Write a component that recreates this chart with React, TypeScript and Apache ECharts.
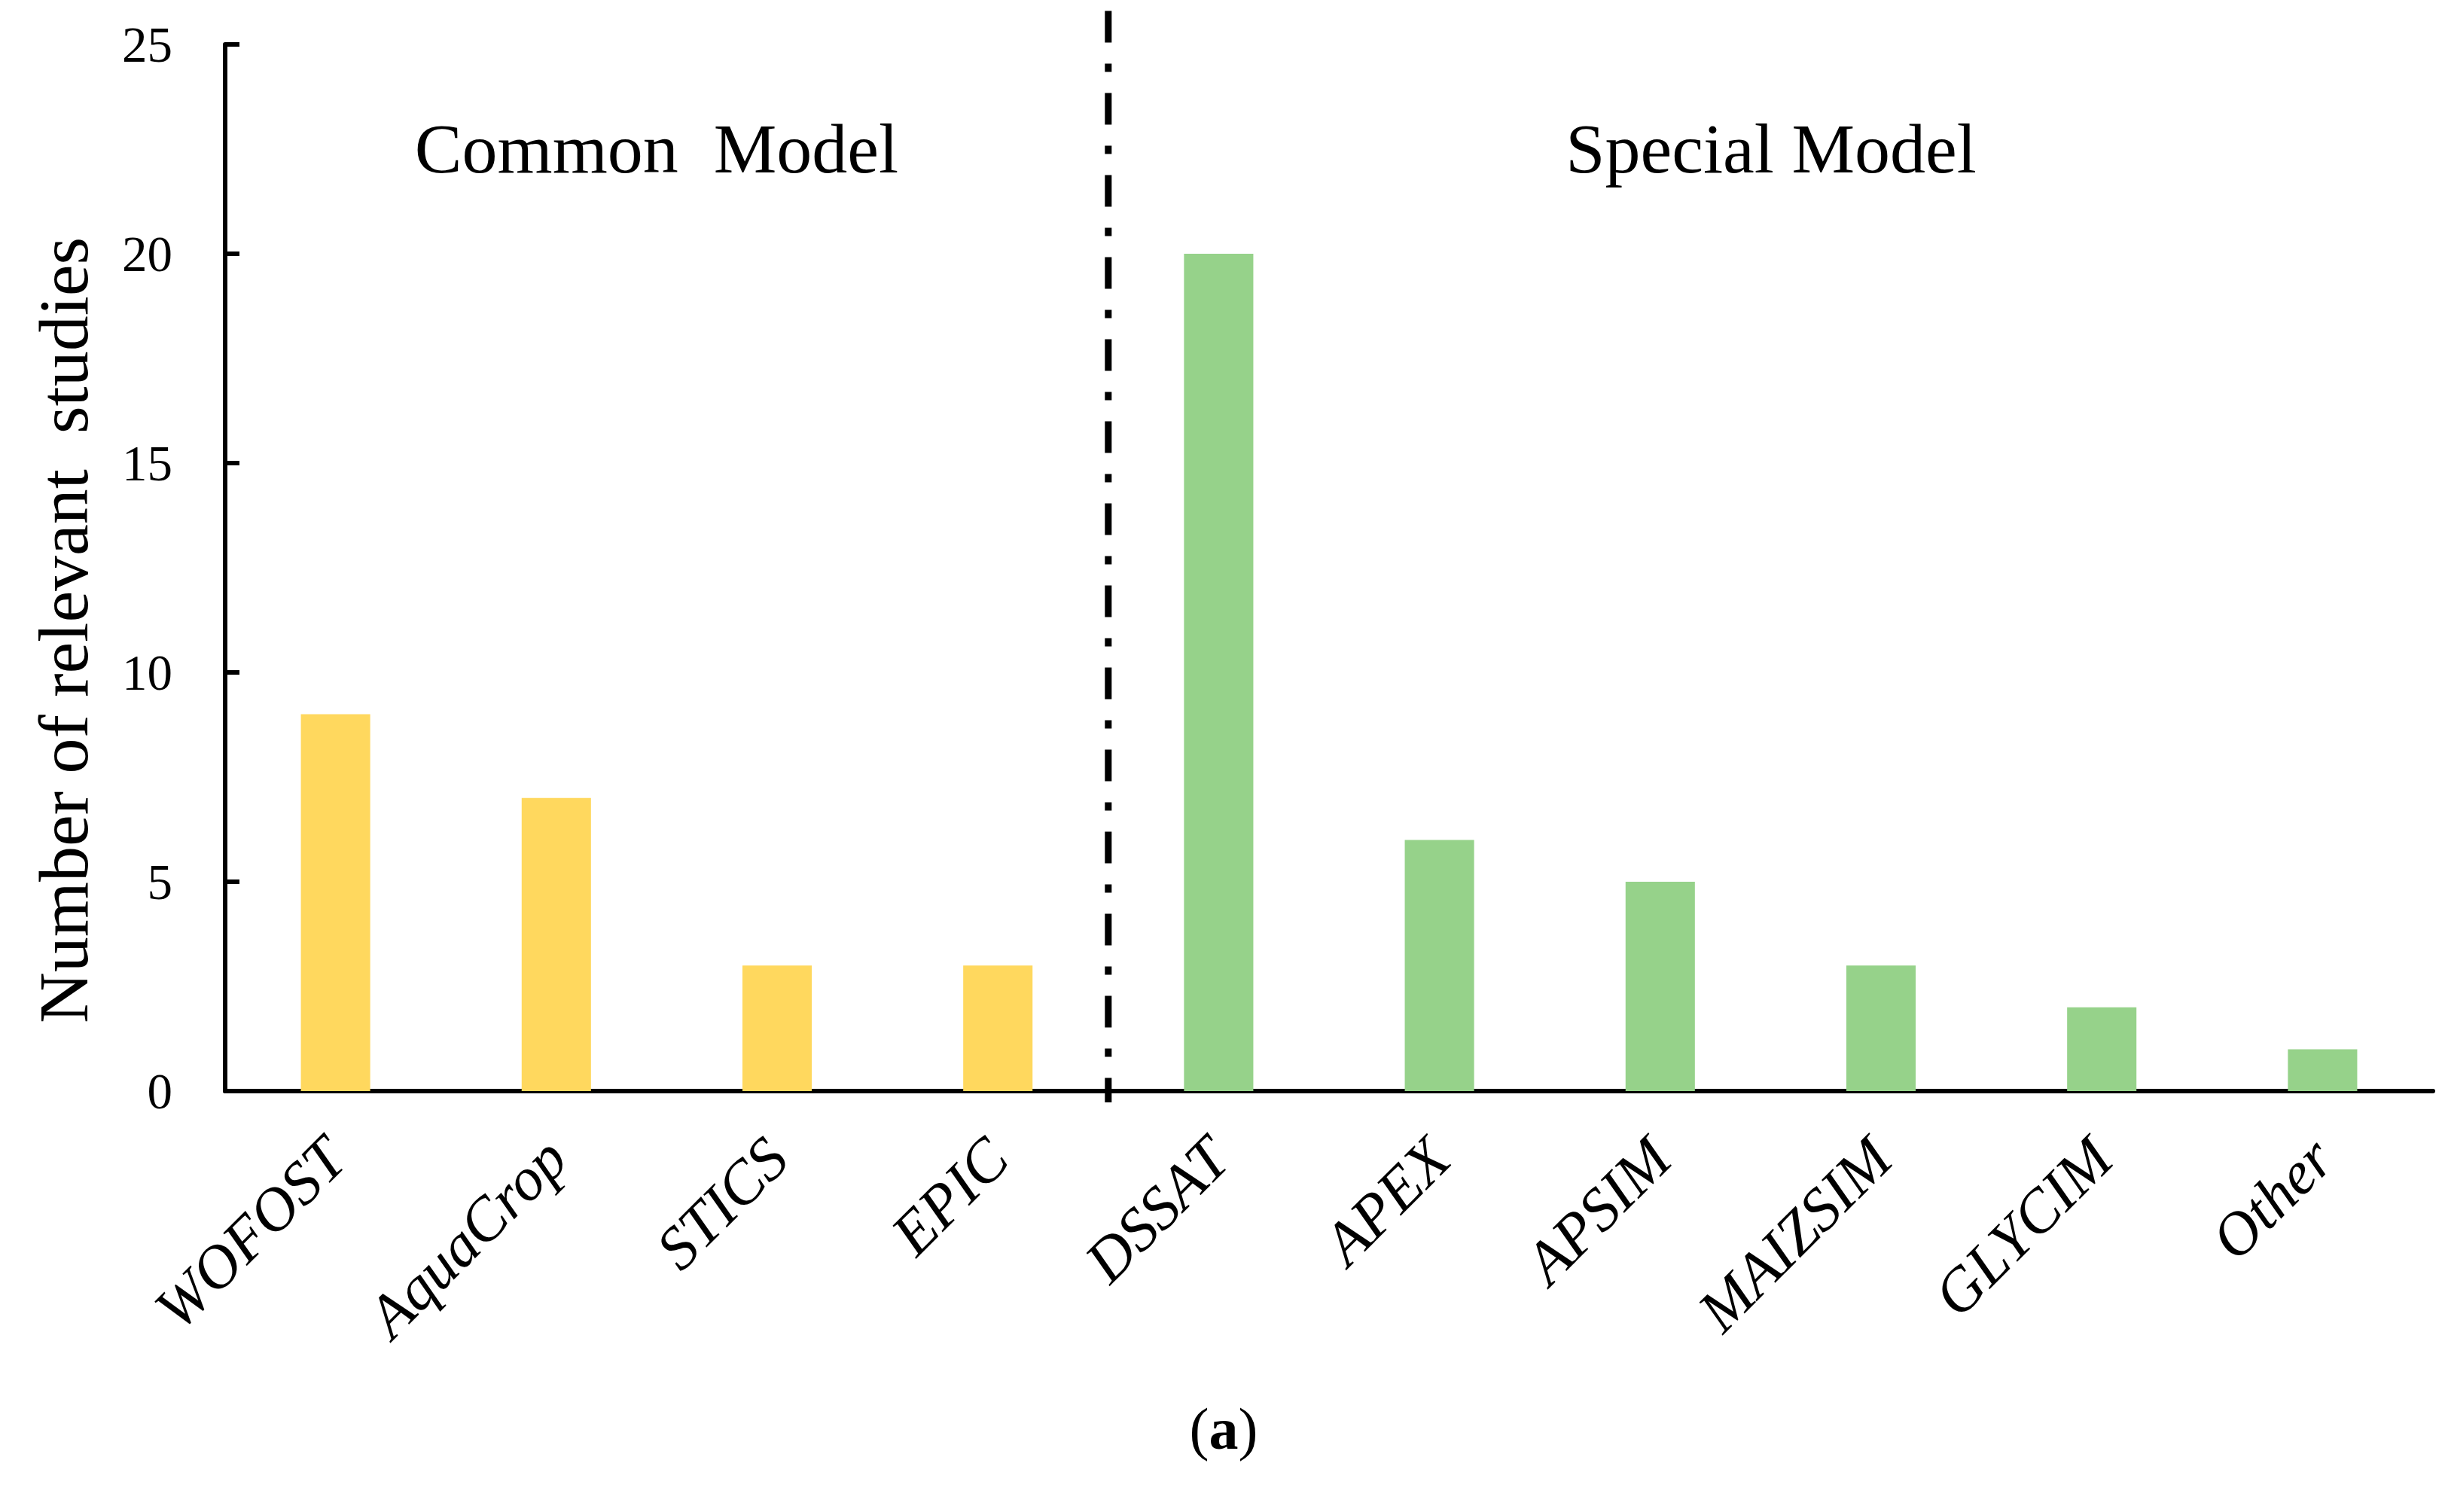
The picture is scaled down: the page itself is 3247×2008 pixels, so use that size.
import React, { useEffect, useRef } from "react";
import * as echarts from "echarts";

const categories = ["WOFOST", "AquaCrop", "STICS", "EPIC", "DSSAT", "APEX", "APSIM", "MAIZSIM", "GLYCIM", "Other"];
const values = [9, 7, 3, 3, 20, 6, 5, 3, 2, 1];
const groups = ["common", "common", "common", "common", "special", "special", "special", "special", "special", "special"];
const groupColors: Record<string, string> = { common: "#FFD85E", special: "#96D28A" };
const yTicks = { min: 0, max: 25, interval: 5 };
const groupTitles = ["Common  Model", "Special Model"];
const yTitle = "Number of relevant  studies";
// divider between the 4th and 5th category (index position on a 0..10 scale)
const dividerX = [4, 4];
const dividerY = [25.8, -0.27];

const FONT = "'Liberation Serif', 'Times New Roman', serif";

export default function App() {
  const ref = useRef<HTMLDivElement>(null);
  useEffect(() => {
    if (!ref.current) return;
    const chart = echarts.init(ref.current, null, { renderer: "svg" });
    chart.setOption({
      animation: false,
      backgroundColor: "#ffffff",
      grid: { left: 299, right: 16, top: 59, bottom: 559, containLabel: false },
      xAxis: [
        {
          type: "category",
          data: categories,
          axisLine: { show: true, lineStyle: { color: "#000", width: 6 } },
          axisTick: { show: false },
          splitLine: { show: false },
          axisLabel: {
            interval: 0,
            rotate: 45,
            margin: 76,
            verticalAlign: "middle",
            color: "#000",
            fontFamily: FONT,
            fontStyle: "italic",
            fontSize: 81,
          },
        },
        { type: "value", min: 0, max: 10, show: false },
      ],
      yAxis: {
        type: "value",
        min: yTicks.min,
        max: yTicks.max,
        interval: yTicks.interval,
        axisLine: { show: true, lineStyle: { color: "#000", width: 6 } },
        axisTick: { show: true, inside: true, length: 19, lineStyle: { color: "#000", width: 6 } },
        splitLine: { show: false },
        axisLabel: { color: "#000", fontFamily: FONT, fontSize: 67, margin: 70 },
      },
      series: [
        {
          type: "bar",
          xAxisIndex: 0,
          barWidth: "31.4%",
          data: values.map((v, i) => ({ value: v, itemStyle: { color: groupColors[groups[i]] } })),
        },
        {
          type: "line",
          xAxisIndex: 1,
          clip: false,
          symbol: "none",
          silent: true,
          data: dividerX.map((x, i) => [x, dividerY[i]]),
          lineStyle: { color: "#000", width: 9, type: [42, 28, 11, 28], cap: "butt" },
          z: 5,
        },
      ],
      graphic: [
        {
          type: "text",
          x: 872,
          y: 197,
          style: { text: groupTitles[0], font: `94px ${FONT}`, fill: "#000", textAlign: "center", textVerticalAlign: "middle" },
        },
        {
          type: "text",
          x: 2352,
          y: 197,
          style: { text: groupTitles[1], font: `94px ${FONT}`, fill: "#000", textAlign: "center", textVerticalAlign: "middle" },
        },
        {
          type: "text",
          x: 84,
          y: 837,
          rotation: Math.PI / 2,
          style: { text: yTitle, font: `94px ${FONT}`, fill: "#000", textAlign: "center", textVerticalAlign: "middle" },
        },
        {
          type: "text",
          x: 1625,
          y: 1897,
          style: {
            text: "({b|a})",
            font: `78px ${FONT}`,
            fill: "#000",
            textAlign: "center",
            textVerticalAlign: "middle",
            rich: { b: { fontFamily: FONT, fontSize: 78, fontWeight: "bold", fill: "#000" } },
          },
        },
      ],
    });
    return () => chart.dispose();
  }, []);
  return (
    <div
      ref={ref}
      style={{ position: "absolute", left: 0, top: 0, width: 3247, height: 2008, background: "#fff" }}
    />
  );
}
